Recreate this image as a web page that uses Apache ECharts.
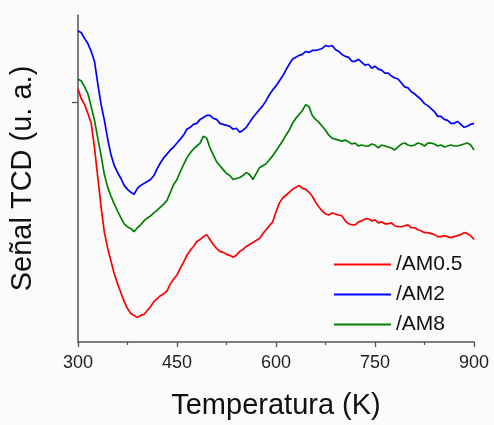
<!DOCTYPE html>
<html>
<head>
<meta charset="utf-8">
<script src="https://cdn.jsdelivr.net/npm/echarts@6/dist/echarts.min.js"></script>
<style>html,body{margin:0;padding:0;background:#fbfbfb;}#c{width:494px;height:425px;}</style>
</head>
<body>
<div id="c"></div>
<script>
// Temperature (K), sampled every 5 K from 300 to 900
const temps = [];
for (let t = 300; t <= 900; t += 5) temps.push(t);

const seriesNames = ['/AM0.5', '/AM2', '/AM8'];
const xTicks = [300, 450, 600, 750, 900];

// TCD signal (arbitrary units)
const am05 = [257,247,241,232,222,197,167,137,111,95,82,69,59,50,41,34,29,27,25,27,28,32,36,41,44,47,49,52,59,64,68,75,81,88,93,97,102,104,107,109,104,99,95,92,91,89,88,86,88,92,94,97,99,101,103,105,110,114,118,122,132,141,146,149,152,155,157,159,156,155,152,148,142,137,133,130,129,131,130,129,128,123,120,119,119,122,123,125,125,123,124,121,122,120,120,121,118,117,117,118,119,116,116,114,113,111,111,110,109,107,107,108,107,106,107,108,109,111,110,108,104];

const am2 = [316,314,308,303,295,285,262,241,225,206,190,179,172,166,159,155,152,150,156,159,161,163,165,169,176,182,187,191,195,198,202,206,210,216,218,221,222,226,228,230,230,227,226,222,221,220,219,216,217,213,215,218,223,228,232,236,240,245,251,256,260,265,270,276,282,287,289,291,292,295,294,296,296,297,298,301,300,301,297,295,292,290,289,285,285,287,284,281,282,278,280,277,276,273,273,270,268,267,263,259,258,254,252,249,246,242,240,237,234,229,229,226,225,222,222,224,221,218,219,221,222];

const am8 = [267,265,259,252,239,225,207,189,170,157,148,140,133,126,120,117,115,112,116,119,123,126,128,131,134,137,140,144,152,160,165,173,180,187,192,196,199,202,209,207,197,190,183,179,175,171,169,165,166,167,169,172,170,165,171,177,179,181,185,189,194,199,204,210,215,222,227,231,235,241,239,230,226,223,219,215,210,207,206,205,204,205,203,201,202,199,200,199,199,201,200,197,200,199,198,197,195,198,201,202,200,199,200,202,201,199,202,202,201,199,200,198,199,200,199,199,200,201,202,200,195];

const yTickMarks = [243];
const colors = ['#ff0000', '#0000ff', '#008000'];

function pairs(vals) { return temps.map((t, i) => [t, vals[i]]); }

const FONT = 'Liberation Sans, Arial, sans-serif';
const chart = echarts.init(document.getElementById('c'), null, {renderer: 'canvas'});
chart.setOption({
  backgroundColor: '#fbfbfb',
  animation: false,
  grid: {left: 66, right: 20, top: 15, bottom: 78, containLabel: false},
  xAxis: {
    type: 'value', min: 300, max: 900, interval: 150,
    axisLine: {show: true, lineStyle: {color: '#555', width: 1.5}},
    axisTick: {show: true, length: 5, lineStyle: {color: '#555', width: 1.3}, customValues: xTicks},
    minorTick: {show: true, splitNumber: 2, length: 3, lineStyle: {color: '#555', width: 1.2}},
    axisLabel: {fontSize: 18, color: '#222', margin: 12, fontFamily: FONT, customValues: xTicks},
    splitLine: {show: false},
    name: 'Temperatura (K)', nameLocation: 'middle', nameGap: 49,
    nameTextStyle: {fontSize: 29, color: '#111', fontFamily: FONT}
  },
  yAxis: {
    type: 'value', min: 0, max: 332,
    axisLine: {show: true, lineStyle: {color: '#555', width: 1.5}},
    axisTick: {show: true, length: 6, lineStyle: {color: '#555', width: 1.3}, customValues: yTickMarks},
    axisLabel: {show: false},
    splitLine: {show: false},
    name: 'Señal TCD (u. a.)', nameLocation: 'middle', nameGap: 41, nameRotate: 90,
    nameTextStyle: {fontSize: 29, color: '#111', fontFamily: FONT}
  },
  legend: {
    data: seriesNames,
    orient: 'vertical', left: 334, top: 254, padding: 0,
    icon: 'rect', itemWidth: 57, itemHeight: 2, itemGap: 9,
    textStyle: {fontSize: 21, color: '#111', lineHeight: 21, fontFamily: FONT}
  },
  series: [
    {name: seriesNames[0], type: 'line', data: pairs(am05)},
    {name: seriesNames[1], type: 'line', data: pairs(am2)},
    {name: seriesNames[2], type: 'line', data: pairs(am8)}
  ].map((s, i) => Object.assign(s, {
    showSymbol: false, symbol: 'none', color: colors[i],
    lineStyle: {color: colors[i], width: 1.7}
  }))
});
</script>
</body>
</html>
